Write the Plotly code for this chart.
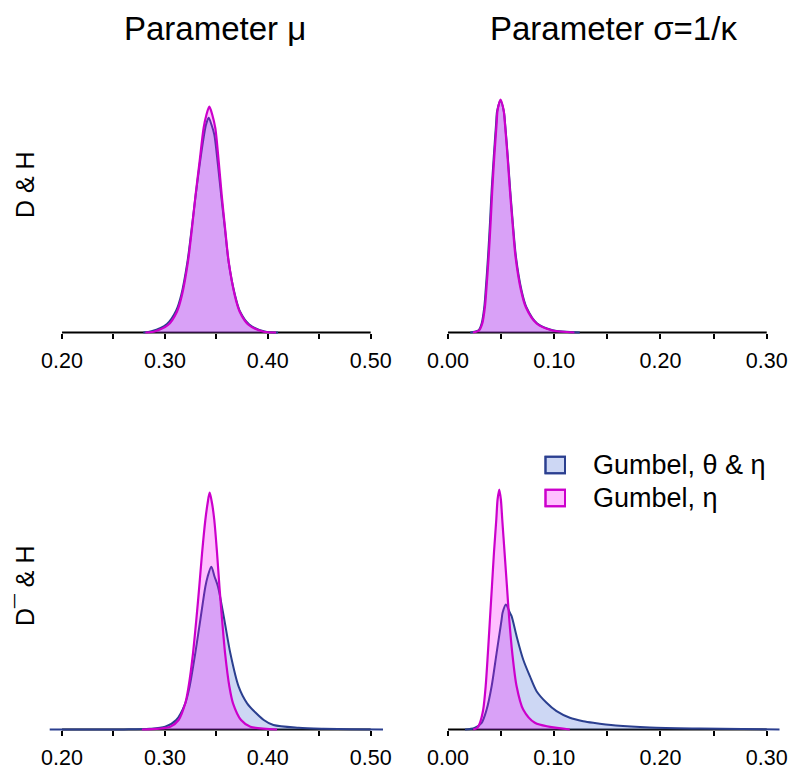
import plotly.graph_objects as go

# ---------------------------------------------------------------
# Posterior density estimates (arbitrary density units, per panel)
# te = "Gumbel, θ & η", e = "Gumbel, η"
# ---------------------------------------------------------------

# Parameter mu, D & H
mu_dh_x_te = [0.279, 0.287, 0.302, 0.311, 0.316, 0.3218, 0.3258, 0.3295, 0.3335, 0.3378,
              0.3400, 0.3425, 0.3452, 0.348, 0.3515, 0.3548, 0.3583, 0.362, 0.368, 0.373,
              0.382, 0.397, 0.410]
mu_dh_d_te = [0, 1.2, 8.5, 22, 38, 70, 102, 134, 166, 196,
              208, 214.8, 208, 198, 168, 136, 104, 70, 38, 21,
              8, 1, 0]
mu_dh_x_e = [0.281, 0.289, 0.303, 0.3117, 0.3166, 0.3224, 0.3263, 0.3298, 0.3337, 0.3376,
             0.3403, 0.3432, 0.3461, 0.3490, 0.3523, 0.3552, 0.3585, 0.3620, 0.3678, 0.3727,
             0.3815, 0.3961, 0.408]
mu_dh_d_e = [0, 0.8, 7.5, 20.8, 37.5, 70.8, 104.2, 137.5, 170.8, 204.2,
             217.5, 225.8, 217.5, 204.2, 170.8, 137.5, 104.2, 70.8, 37.5, 20.8,
             7.5, 0.8, 0]

# Parameter sigma, D & H
sg_dh_x_te = [0.021, 0.0288, 0.0317, 0.0342, 0.0355, 0.0377, 0.0395, 0.0411, 0.0431, 0.0453,
              0.0462, 0.0494, 0.0526, 0.0538, 0.0563, 0.0586, 0.0611, 0.0640, 0.0692, 0.0737,
              0.0840, 0.0985, 0.124]
sg_dh_d_te = [0, 2.3, 9, 25.7, 42.3, 75.7, 109, 142.3, 175.7, 209,
              221, 232, 221, 209, 175.7, 142.3, 109, 75.7, 42.3, 25.7,
              9, 2.3, 0]
sg_dh_x_e = [0.0235, 0.0294, 0.0323, 0.0348, 0.0361, 0.0383, 0.0401, 0.0417, 0.0436, 0.0458,
             0.0467, 0.0495, 0.0524, 0.0536, 0.0561, 0.0583, 0.0608, 0.0636, 0.0687, 0.0731,
             0.0834, 0.0975, 0.119]
sg_dh_d_e = [0, 2.3, 9, 25.7, 42.3, 75.7, 109, 142.3, 175.7, 209,
             222.3, 233, 222.3, 209, 175.7, 142.3, 109, 75.7, 42.3, 25.7,
             9, 2.3, 0]

# Parameter mu, D¯ & H
mu_dbh_x_te = [0.180, 0.260, 0.285, 0.3003, 0.3110, 0.3198, 0.3240, 0.3295, 0.3344, 0.3393,
               0.3415, 0.3451, 0.3483, 0.3516, 0.3578, 0.3636, 0.3717, 0.3799, 0.3961, 0.4055,
               0.430, 0.454, 0.480, 0.520]
mu_dbh_d_te = [0, 0.1, 0.7, 2.8, 9.5, 26.2, 42.8, 76.2, 109.5, 142.8,
               152.8, 162.8, 152.8, 142.8, 109.5, 76.2, 42.8, 26.2, 9.5, 4.5,
               1.8, 0.8, 0.3, 0]
mu_dbh_x_e = [0.2776, 0.3052, 0.3133, 0.3198, 0.3230, 0.3273, 0.3305, 0.3334, 0.3361, 0.3393,
              0.3415, 0.3435, 0.3458, 0.3480, 0.3507, 0.3530, 0.3556, 0.3585, 0.3627, 0.3662,
              0.3740, 0.3831, 0.409]
mu_dbh_d_e = [0, 2.8, 9.5, 26.2, 42.8, 76.2, 109.5, 142.8, 176.2, 209.5,
              226.2, 236.8, 226.2, 209.5, 176.2, 142.8, 109.5, 76.2, 42.8, 26.2,
              9.5, 2.8, 0]

# Parameter sigma, D¯ & H
sg_dbh_x_te = [0.016, 0.025, 0.0317, 0.0364, 0.0411, 0.0458, 0.0505, 0.0514, 0.0546, 0.0583,
               0.0599, 0.0646, 0.0708, 0.0771, 0.0834, 0.0928, 0.1022, 0.1147, 0.1273, 0.1367,
               0.158, 0.190, 0.237, 0.320]
sg_dbh_d_te = [0, 1.5, 6.7, 20, 43.3, 76.7, 110, 116.7, 125, 116.7,
               113.3, 93.3, 70, 53.3, 38.3, 26.7, 18.3, 11.7, 8.3, 6.7,
               4, 2, 1, 0]
sg_dbh_x_e = [0.0238, 0.0276, 0.0301, 0.0332, 0.0355, 0.0376, 0.0395, 0.0414, 0.0433, 0.0455,
              0.0467, 0.0483, 0.0498, 0.0511, 0.0533, 0.0555, 0.0577, 0.0605, 0.0646, 0.0708,
              0.0818, 0.1147]
sg_dbh_d_e = [0, 1.7, 6.7, 20, 43.3, 76.7, 110, 143.3, 176.7, 210,
              230, 240, 230, 210, 176.7, 143.3, 110, 76.7, 43.3, 20,
              6.7, 0]

# Axis ticks
mu_ticks = [0.20, 0.25, 0.30, 0.35, 0.40, 0.45, 0.50]
mu_ticktext = ["0.20", "", "0.30", "", "0.40", "", "0.50"]
sg_ticks = [0.00, 0.05, 0.10, 0.15, 0.20, 0.25, 0.30]
sg_ticktext = ["0.00", "", "0.10", "", "0.20", "", "0.30"]

col_titles = ["Parameter \u03bc", "Parameter \u03c3=1/\u03ba"]
row_titles = ["D & H", "D\u00af & H"]
series_names = ["Gumbel, \u03b8 & \u03b7", "Gumbel, \u03b7"]

# ---------------------------------------------------------------
# Styling
# ---------------------------------------------------------------
FONT = "Liberation Sans, Arial, Helvetica, sans-serif"
BLUE_LINE = "#2B3F8F"
BLUE_FILL = "rgba(100,130,220,0.32)"
MAG_LINE = "#CC00CC"
MAG_FILL = "rgba(255,0,255,0.25)"

W, H = 791, 772


def px_x(p):
    return p / W


def px_y(p):
    return 1 - p / H


left_dom = [px_x(49.7), px_x(383.0)]
right_dom = [px_x(435.2), px_x(779.5)]
top_dom = [px_y(342), px_y(85)]
bot_dom = [px_y(740), px_y(480)]
top_base = px_y(332.5)
bot_base = px_y(729.5)

panels = [
    # (x_te, d_te, x_e, d_e, axis suffix, ticks, ticktext, x range, x domain, y domain, y range, baseline)
    (mu_dh_x_te, mu_dh_d_te, mu_dh_x_e, mu_dh_d_e, "", mu_ticks, mu_ticktext,
     [0.188, 0.512], left_dom, top_dom, [-9.5, 247.5], top_base),
    (sg_dh_x_te, sg_dh_d_te, sg_dh_x_e, sg_dh_d_e, "2", sg_ticks, sg_ticktext,
     [-0.012, 0.312], right_dom, top_dom, [-9.5, 247.5], top_base),
    (mu_dbh_x_te, mu_dbh_d_te, mu_dbh_x_e, mu_dbh_d_e, "3", mu_ticks, mu_ticktext,
     [0.188, 0.512], left_dom, bot_dom, [-10.5, 249.5], bot_base),
    (sg_dbh_x_te, sg_dbh_d_te, sg_dbh_x_e, sg_dbh_d_e, "4", sg_ticks, sg_ticktext,
     [-0.012, 0.312], right_dom, bot_dom, [-10.5, 249.5], bot_base),
]

fig = go.Figure()
layout = dict(
    width=W, height=H,
    margin=dict(l=0, r=0, t=0, b=0, autoexpand=False),
    paper_bgcolor="white", plot_bgcolor="white",
    showlegend=False,
    font=dict(family=FONT, color="black"),
)
shapes = []
annotations = []

for (xte, dte, xe, de, sfx, tv, tt, xr, xdom, ydom, yr, base) in panels:
    xa, ya = "x" + sfx, "y" + sfx
    fig.add_trace(go.Scatter(
        x=xte, y=dte, xaxis=xa, yaxis=ya, mode="lines", name=series_names[0],
        line=dict(color=BLUE_LINE, width=2, shape="spline", smoothing=0.8),
        fill="tozeroy", fillcolor=BLUE_FILL, hoverinfo="x+y"))
    fig.add_trace(go.Scatter(
        x=xe, y=de, xaxis=xa, yaxis=ya, mode="lines", name=series_names[1],
        line=dict(color=MAG_LINE, width=2.2, shape="spline", smoothing=0.8),
        fill="tozeroy", fillcolor=MAG_FILL, hoverinfo="x+y"))

    layout["xaxis" + sfx] = dict(
        domain=xdom, range=xr, anchor="free", position=base, automargin=False,
        showline=False, showgrid=False, zeroline=False,
        tickmode="array", tickvals=tv, ticktext=tt,
        ticks="outside", ticklen=5, tickwidth=1.5, tickcolor="black",
        ticklabelstandoff=4,
        tickfont=dict(family=FONT, size=21.5, color="black"),
        fixedrange=True,
    )
    layout["yaxis" + sfx] = dict(
        domain=ydom, range=yr, anchor=xa, visible=False, fixedrange=True, automargin=False,
    )
    # axis line spanning first to last tick
    shapes.append(dict(type="line", xref=xa, yref=ya, x0=tv[0], x1=tv[-1], y0=0, y1=0,
                       line=dict(color="black", width=2), layer="below"))

# column titles
for label, cx in zip(col_titles, [215, 613.5]):
    annotations.append(dict(text=label, xref="paper", yref="paper", x=px_x(cx), y=px_y(28),
                            xanchor="center", yanchor="middle", showarrow=False,
                            font=dict(family=FONT, size=33, color="black")))
# row titles
for label, cy in zip(row_titles, [184, 586]):
    annotations.append(dict(text=label, xref="paper", yref="paper", x=px_x(25), y=px_y(cy),
                            xanchor="center", yanchor="middle", showarrow=False, textangle=-90,
                            font=dict(family=FONT, size=25, color="black")))

# legend (bottom-right panel)
legend_rows = [(series_names[0], BLUE_LINE, BLUE_FILL, 465), (series_names[1], MAG_LINE, MAG_FILL, 498)]
for name, lc, fc, cy in legend_rows:
    shapes.append(dict(type="rect", xref="paper", yref="paper",
                       x0=px_x(545.5), x1=px_x(565), y0=px_y(cy - 8.3), y1=px_y(cy + 8.3),
                       line=dict(color=lc, width=2), fillcolor="white", layer="above"))
    shapes.append(dict(type="rect", xref="paper", yref="paper",
                       x0=px_x(545.5), x1=px_x(565), y0=px_y(cy - 8.3), y1=px_y(cy + 8.3),
                       line=dict(color=lc, width=2), fillcolor=fc, layer="above"))
    annotations.append(dict(text=name, xref="paper", yref="paper", x=px_x(591), y=px_y(cy),
                            xanchor="left", yanchor="middle", showarrow=False,
                            font=dict(family=FONT, size=27, color="black")))

layout["shapes"] = shapes
layout["annotations"] = annotations
fig.update_layout(**layout)

fig.write_html("out.html")
